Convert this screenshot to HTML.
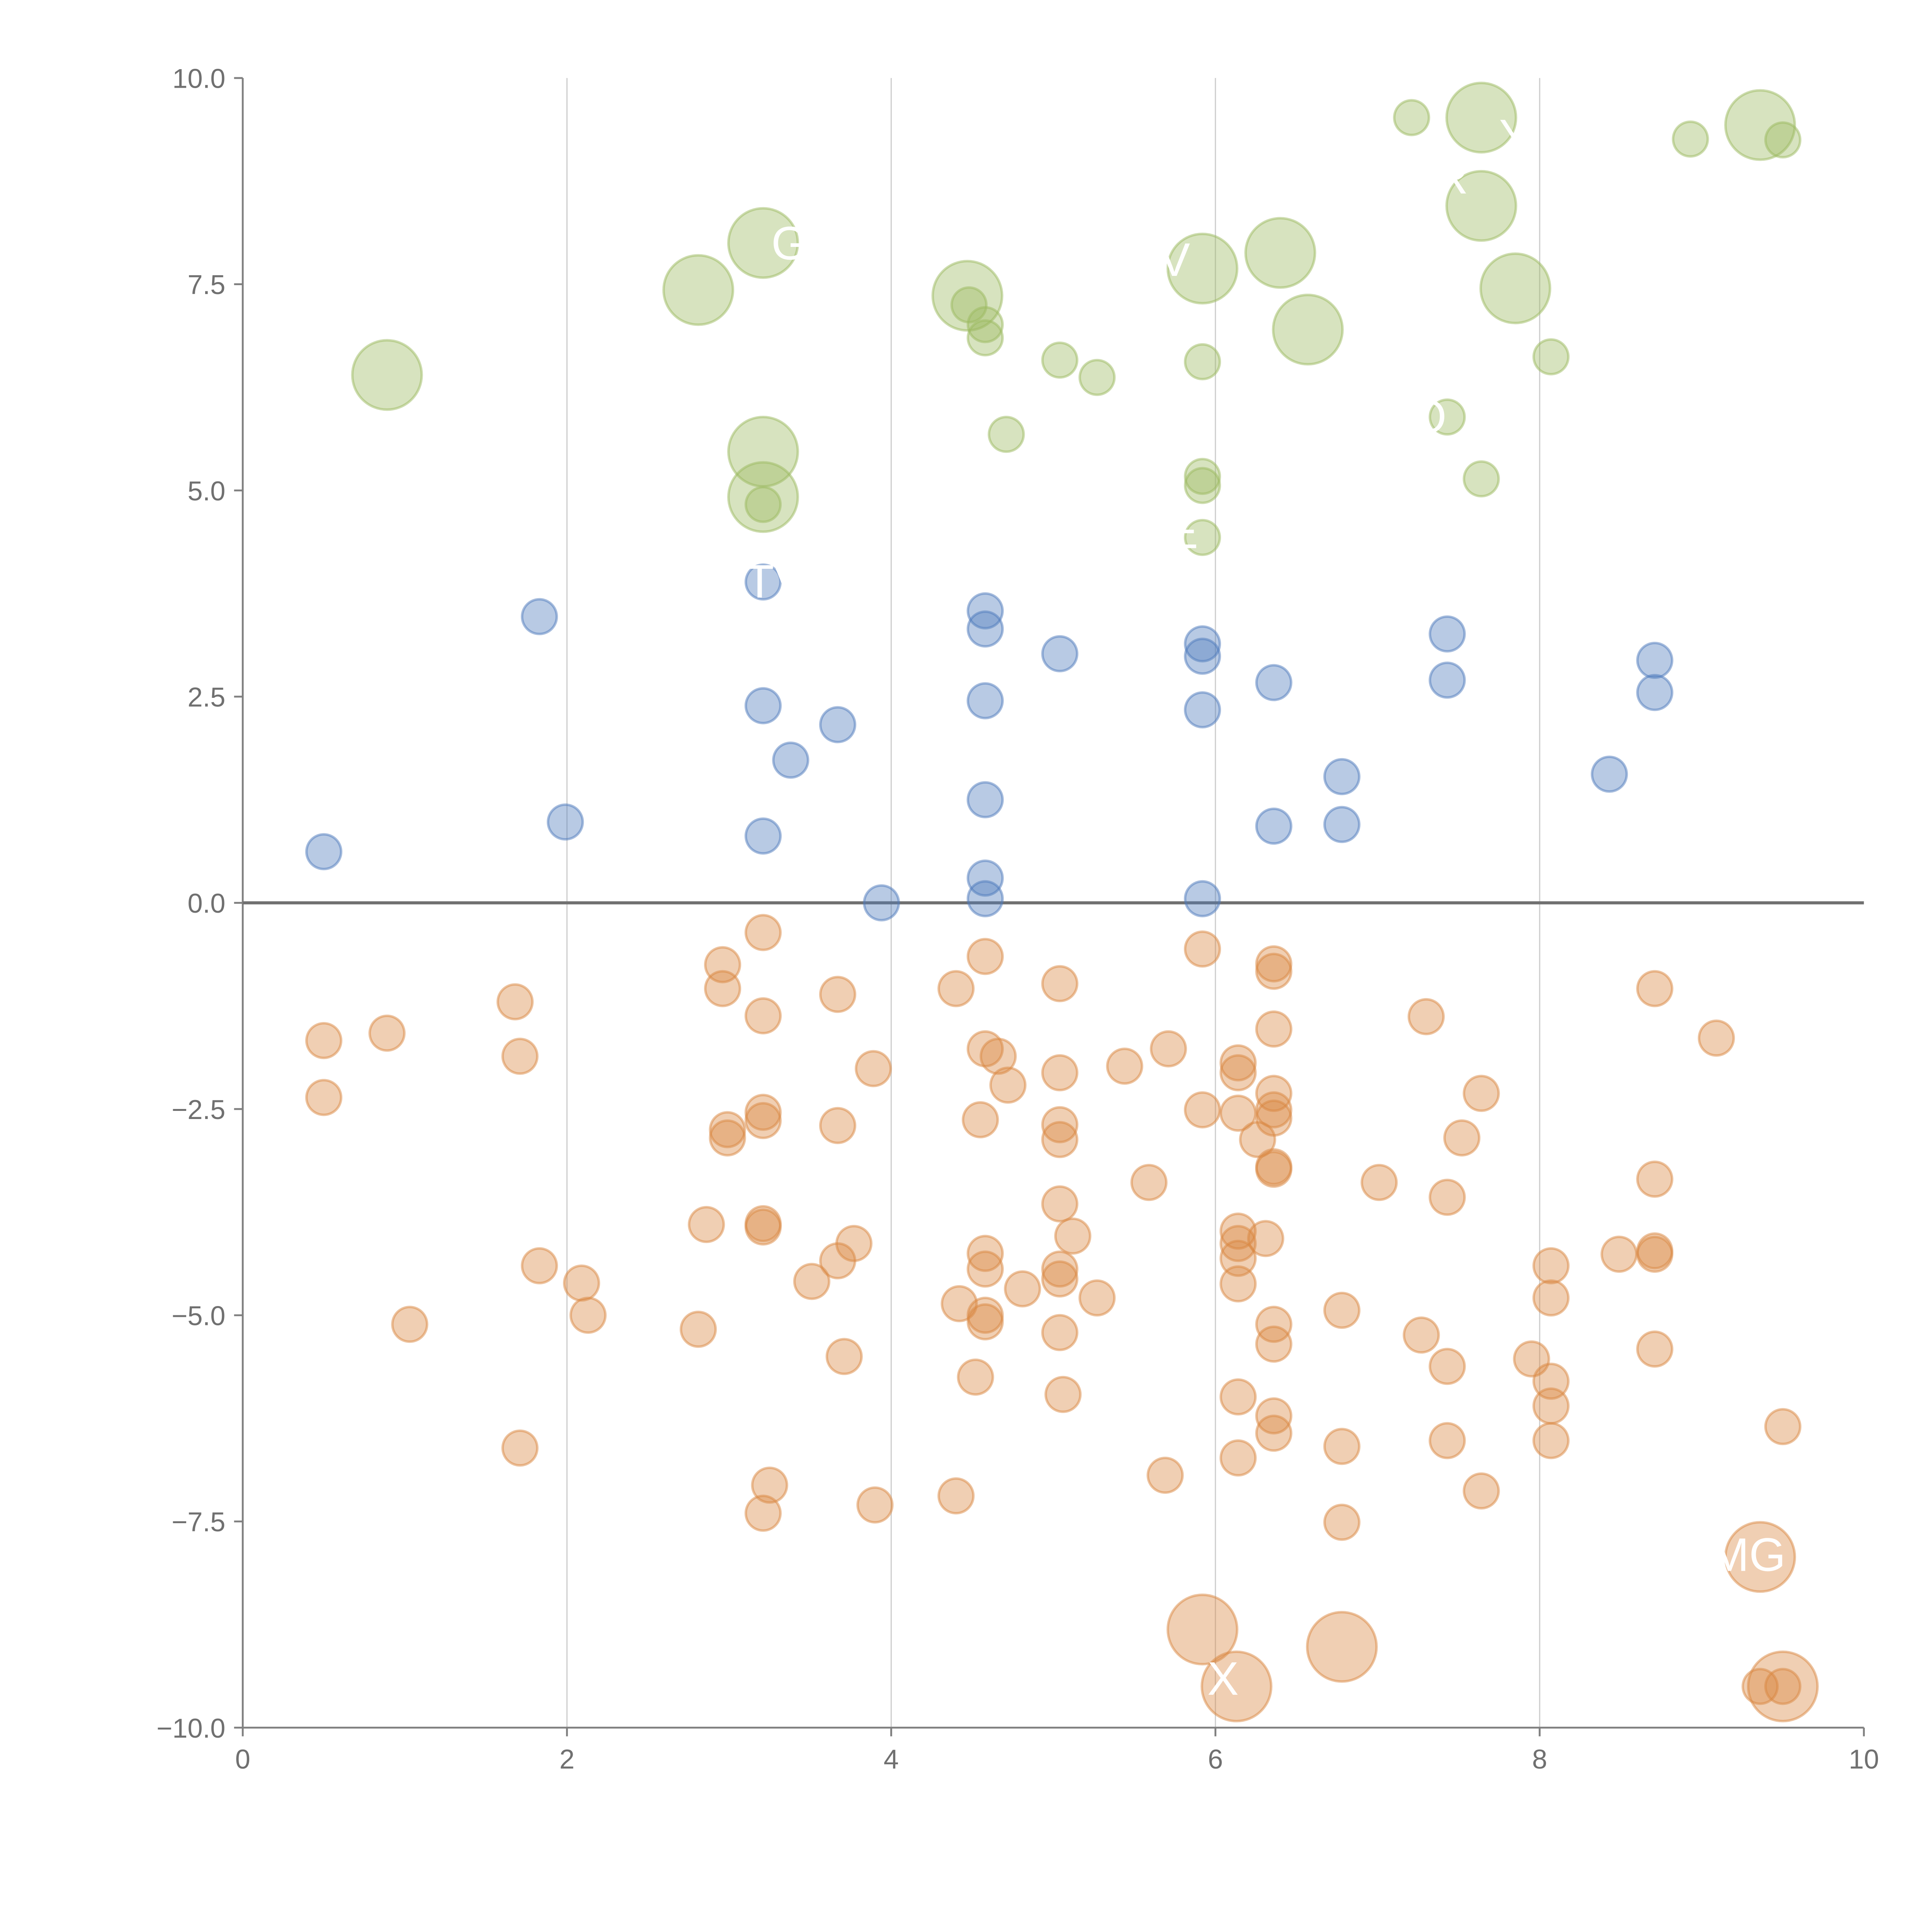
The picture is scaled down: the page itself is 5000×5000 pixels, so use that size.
<!DOCTYPE html>
<html><head><meta charset="utf-8">
<style>html,body{margin:0;padding:0;background:#fff;}svg{display:block;}</style>
</head><body>
<svg id="chart" width="5000" height="5000" viewBox="0 0 1560 1560" xmlns="http://www.w3.org/2000/svg" font-family="'Liberation Sans', sans-serif">
<rect x="0" y="0" width="1560" height="1560" fill="#fff"/>
<g id="grid"></g>
<g id="axes"></g>
<g id="marks"></g>
<g id="labels"></g>
</svg>
<script>
const blueX=[0.50,1.83,1.99,3.21,3.21,3.38,3.67,3.21,3.94,4.58,4.58,4.58,4.58,4.58,4.58,5.04,5.92,5.92,5.92,5.92,6.36,6.36,6.78,6.78,7.43,7.43,8.43,8.71,8.71];
const blueY=[0.62,3.47,0.98,3.89,2.39,1.73,2.16,0.81,0.0,3.54,3.32,2.45,1.25,0.30,0.05,3.02,3.14,2.99,2.34,0.05,2.67,0.93,1.53,0.95,3.26,2.70,1.56,2.94,2.55];
const greenX=[0.89,2.81,3.21,3.21,3.21,3.21,4.47,4.48,4.58,4.58,4.71,5.04,5.27,5.92,5.92,5.92,5.92,5.92,6.40,6.57,7.21,7.64,7.64,7.43,7.64,7.85,8.07,8.93,9.36,9.50];
const greenY=[6.40,7.43,8.00,5.47,4.92,4.83,7.36,7.25,7.01,6.85,5.68,6.58,6.37,7.69,6.56,5.17,5.06,4.43,7.88,6.95,9.52,9.52,8.45,5.89,5.14,7.45,6.62,9.26,9.43,9.25];
const greenBig=[1,1,1,1,1,0,1,0,0,0,0,0,0,1,0,0,0,0,1,1,0,1,1,0,0,1,0,0,1,0];
const orangeX=[0.50,0.50,0.89,1.68,1.71,1.83,2.09,2.13,1.03,1.71,2.81,2.86,2.96,2.96,2.99,2.99,3.21,3.21,3.21,3.21,3.21,3.21,3.25,3.21,3.51,3.67,3.67,3.67,3.71,3.77,3.89,3.90,4.40,4.40,4.42,4.52,4.55,4.58,4.58,4.66,4.72,4.58,4.58,4.58,4.58,4.81,5.04,5.04,5.04,5.04,5.04,5.12,5.04,5.04,5.04,5.06,5.27,5.44,5.59,5.69,5.71,5.92,5.92,6.14,6.14,6.14,6.14,6.14,6.14,6.14,6.14,6.14,6.26,6.31,6.36,6.36,6.36,6.36,6.36,6.36,6.36,6.36,6.36,6.36,6.36,6.36,6.78,6.78,6.78,7.01,7.27,7.30,7.43,7.43,7.43,7.52,7.64,7.64,7.95,8.07,8.07,8.07,8.07,8.07,8.49,8.71,8.71,8.71,8.71,8.71,9.09,9.50,9.36,9.50,5.92,6.13,6.78,9.36,9.50];
const orangeY=[-1.67,-2.36,-1.58,-1.20,-1.86,-4.40,-4.61,-5.00,-5.11,-6.61,-5.17,-3.90,-0.75,-1.04,-2.75,-2.85,-0.36,-1.37,-2.54,-2.64,-3.89,-3.93,-7.06,-7.40,-4.59,-1.11,-2.70,-4.34,-5.50,-4.13,-2.01,-7.30,-1.04,-7.19,-4.86,-5.75,-2.63,-0.65,-1.77,-1.86,-2.21,-4.25,-4.44,-5.00,-5.08,-4.68,-0.98,-2.06,-2.69,-2.87,-3.65,-4.04,-4.44,-4.56,-5.21,-5.96,-4.79,-1.98,-3.39,-6.94,-1.77,-0.56,-2.51,-1.94,-2.06,-2.55,-3.98,-4.13,-4.31,-4.62,-5.99,-6.73,-2.87,-4.07,-0.74,-0.83,-1.53,-2.31,-2.51,-2.61,-3.20,-3.23,-5.11,-5.35,-6.22,-6.43,-4.94,-6.59,-7.51,-3.39,-5.24,-1.38,-3.57,-5.62,-6.52,-2.85,-2.31,-7.13,-5.53,-4.40,-4.79,-5.80,-6.10,-6.52,-4.26,-1.04,-3.35,-4.22,-4.26,-5.41,-1.64,-6.35,-9.50,-9.50,-8.81,-9.50,-9.02,-7.93,-9.50];
const orangeBig=[];for(let i=0;i<orangeX.length;i++){orangeBig.push(i>=orangeX.length-5?1:0);}
const xTicks=[0,2,4,6,8,10];
const yTicks=[10,7.5,5,2.5,0,-2.5,-5,-7.5,-10];
const labelText=["G","TV","V","E","O","R","Y","MG","X"];
const labelX=[3.26,3.1,5.65,5.7,7.2,7.35,7.75,9.05,5.95];
const labelY=[7.8,3.7,7.6,4.3,5.7,8.6,9.1,-8.1,-9.6];

const NS="http://www.w3.org/2000/svg";
const X0=196,X1=1505,Y0=1395,Y1=63;
function sx(v){return X0+(v-0)/(10-0)*(X1-X0);}
function sy(v){return Y0-(v+10)/20*(Y0-Y1);}
function mk(tag,attrs,parent){const e=document.createElementNS(NS,tag);for(const k in attrs)e.setAttribute(k,attrs[k]);parent.appendChild(e);return e;}
const grid=document.getElementById('grid'),axes=document.getElementById('axes'),marks=document.getElementById('marks'),labels=document.getElementById('labels');

xTicks.forEach(t=>{
  if(t>0&&t<10){const g=mk('line',{x1:sx(t),x2:sx(t),y1:Y1,y2:Y0,stroke:'#cfcfcf','stroke-width':1},grid);
  
  }
  const tk=mk('line',{x1:sx(t),x2:sx(t),y1:Y0,y2:Y0+7,stroke:'#808080','stroke-width':1.5},axes);
  
  
  const tl=mk('text',{x:sx(t),y:Y0+33,'text-anchor':'middle','font-size':22,fill:'#707070'},axes);
  tl.textContent=String(t);
  
  
});
yTicks.forEach(t=>{
  const tk=mk('line',{x1:X0-7,x2:X0,y1:sy(t),y2:sy(t),stroke:'#808080','stroke-width':1.5},axes);
  
  
  const tl=mk('text',{x:X0-14,y:sy(t)+8,'text-anchor':'end','font-size':22,fill:'#707070'},axes);
  tl.textContent=(t<0?'\u2212':'')+Math.abs(t).toFixed(1);
  
  
});
let a=mk('line',{x1:X0,x2:X0,y1:Y1,y2:Y0,stroke:'#808080','stroke-width':1.5},axes);


a=mk('line',{x1:X0,x2:X1,y1:Y0,y2:Y0,stroke:'#808080','stroke-width':1.5},axes);



function series(xs,ys,big,col,name){
  for(let i=0;i<xs.length;i++){
    const r=big&&big[i]?28:14;
    const c=mk('circle',{cx:sx(xs[i]),cy:sy(ys[i]),r:r,fill:'rgba('+col+',0.4)',stroke:'rgba('+col+',0.5)','stroke-width':2},marks);
    
    
  }
}
series(orangeX,orangeY,orangeBig,'217,135,65','orange-point');
series(blueX,blueY,null,'77,122,187','blue-point');
series(greenX,greenY,greenBig,'155,185,95','green-point');

const zl=mk('line',{x1:X0,x2:X1,y1:sy(0),y2:sy(0),stroke:'#707070','stroke-width':2.5},axes);



for(let i=0;i<labelText.length;i++){
  const t=mk('text',{x:sx(labelX[i]),y:sy(labelY[i]),'font-size':38,fill:'#ffffff'},labels);
  t.textContent=labelText[i];
  
  
}
</script>
</body></html>
